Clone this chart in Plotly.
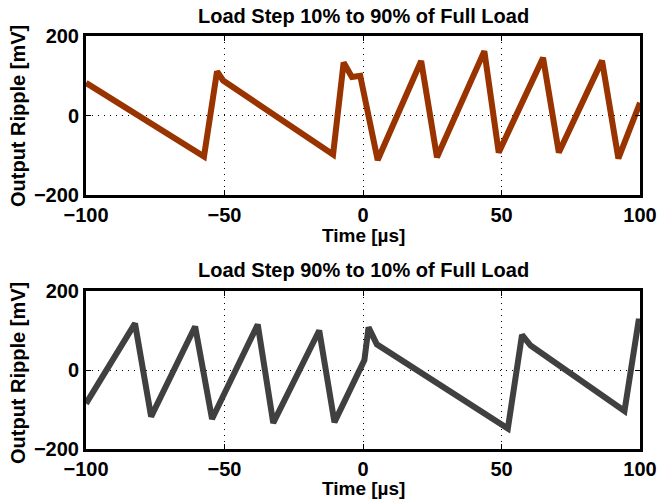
import plotly.graph_objects as go

# ---- data ----
t_up = [-100, -57.4, -52.7, -50.5, -10.8, -7.0, -4.0, -1.0, 5.3, 21.0, 26.7, 43.8, 49.0, 65.0, 70.7, 86.3, 92.2, 100]
v_up = [82, -103, 111, 88, -98, 133, 97, 100, -112, 137, -105, 162, -93, 145, -93, 138, -108, 32]

t_down = [-100, -82.3, -76.5, -60.6, -54.5, -38.0, -32.4, -15.8, -10.3, 0.5, 2.0, 5.0, 52.3, 57.4, 60.5, 94.4, 99.6, 100]
v_down = [-85, 118, -118, 110, -124, 115, -134, 100, -132, 25, 108, 65, -148, 89, 62, -104, 129, 118]

x_ticks = [-100, -50, 0, 50, 100]
y_ticks = [-200, 0, 200]

title_top = "Load Step 10% to 90% of Full Load"
title_bottom = "Load Step 90% to 10% of Full Load"
x_title = "Time [\u00b5s]"
y_title = "Output Ripple [mV]"

FONT = "Liberation Sans"
FS = 20

fig = go.Figure()
fig.add_trace(go.Scatter(x=t_up, y=v_up, mode="lines",
                         line=dict(color="#993300", width=6), xaxis="x", yaxis="y",
                         showlegend=False, hoverinfo="skip"))
fig.add_trace(go.Scatter(x=t_down, y=v_down, mode="lines",
                         line=dict(color="#404040", width=6), xaxis="x2", yaxis="y2",
                         showlegend=False, hoverinfo="skip"))

tickfont = dict(family=FONT, size=FS, color="black", weight="bold")

def xax(anchor):
    return dict(range=[-100, 100], tickvals=x_ticks, showline=True, linewidth=3,
                linecolor="black", mirror="ticks", ticks="inside", ticklen=5,
                tickwidth=1, tickcolor="black", showgrid=True, gridcolor="black",
                gridwidth=1, griddash="1px,5px", zeroline=False, tickfont=tickfont,
                anchor=anchor, domain=[0, 1], fixedrange=True, automargin=False)

def yax(anchor, dom):
    return dict(range=[-200, 200], tickvals=y_ticks, showline=True, linewidth=3,
                linecolor="black", mirror="ticks", ticks="inside", ticklen=5,
                tickwidth=1, tickcolor="black", showgrid=True, gridcolor="black",
                gridwidth=1, griddash="1px,5px", zeroline=False, tickfont=tickfont,
                anchor=anchor, domain=dom, fixedrange=True, automargin=False)

H = 413.0
def py(p):
    return (449 - p) / H

fig.update_layout(
    width=657, height=500,
    margin=dict(l=86, r=17, t=36, b=51),
    paper_bgcolor="white", plot_bgcolor="white",
    xaxis=xax("y"), yaxis=yax("x", [py(195), 1.0]),
    xaxis2=xax("y2"), yaxis2=yax("x2", [0.0, py(291)]),
    font=dict(family=FONT, size=FS, color="black"),
)

ann_font = dict(family=FONT, size=FS, color="black", weight="bold")
xt_font = dict(family=FONT, size=19, color="black", weight="bold")
anns = [
    (0.5, py(16), title_top, 0, ann_font),
    (0.5, py(270), title_bottom, 0, ann_font),
    (0.5, py(235.5), x_title, 0, xt_font),
    (0.5, py(489), x_title, 0, xt_font),
    ((18 - 86) / 554.0, py(116), y_title, -90, ann_font),
    ((18 - 86) / 554.0, py(373), y_title, -90, ann_font),
]
for x, y, txt, ang, f in anns:
    fig.add_annotation(x=x, y=y, xref="paper", yref="paper", text=txt, showarrow=False,
                       xanchor="center", yanchor="middle", textangle=ang, font=f)

fig.write_html("out.html")
